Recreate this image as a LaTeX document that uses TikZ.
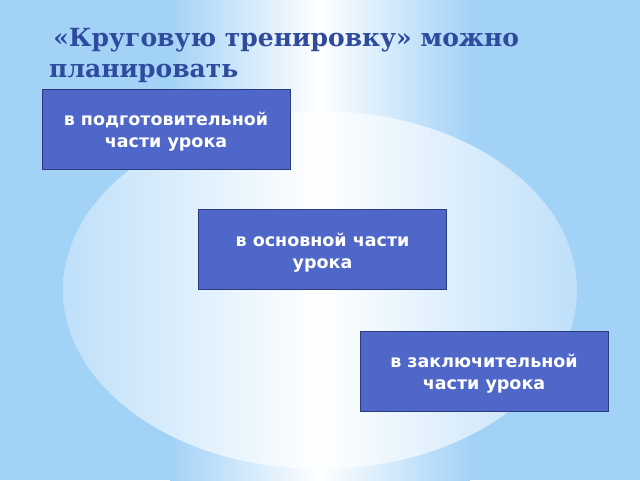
\documentclass[tikz,border=0pt]{standalone}
\usepackage{fontspec}
\setmainfont{DejaVu Sans}
\newfontfamily\titlefont{DejaVu Serif}
\usetikzlibrary{shadings}

\definecolor{skyblue}{HTML}{A3D2F7}
\definecolor{titleblue}{HTML}{2F4B9E}
\definecolor{boxblue}{HTML}{4F67C8}
\definecolor{boxline}{HTML}{2C3B7C}

\begin{document}
\begin{tikzpicture}[x=1pt,y=-1pt]

      % background
      \useasboundingbox (0,0) rectangle (640,480);
      \fill[skyblue] (0,0) rectangle (640,480);
      \shade[left color=skyblue,right color=skyblue,middle color=white] (170,0) rectangle (470,480);
      \shade[left color=skyblue!70,right color=skyblue!70,middle color=white] (320,290) ellipse (257 and 179);

      \node[anchor=north west,align=left,text=titleblue,font=\titlefont\bfseries\fontsize{25}{31}\selectfont,inner sep=0pt] (title) at (49,28)
        {\,«Круговую тренировку» можно\\планировать};

      \begin{scope}[every node/.style={rectangle,draw=boxline,line width=1pt,fill=boxblue,text=white,
          font=\bfseries\fontsize{17.5}{22}\selectfont,align=center,minimum width=248,minimum height=80}]
        \node (prep) at (166,129) {\rule{0pt}{19pt}в подготовительной\\части урока};
        \node (main) at (322.5,249.5) {\rule{0pt}{19pt}в основной части\\урока};
        \node (final) at (484,371) {\rule{0pt}{19pt}в заключительной\\части урока};
      \end{scope}

    \end{tikzpicture}
\end{document}
